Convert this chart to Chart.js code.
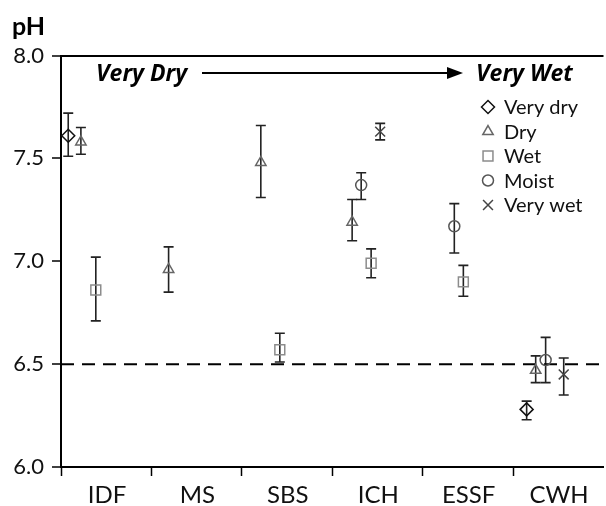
<!DOCTYPE html>
<html>
<head>
<meta charset="utf-8">
<script src="https://cdn.jsdelivr.net/npm/chart.js@4/dist/chart.umd.min.js"></script>
<style>
  html, body { margin: 0; padding: 0; background: #fff; overflow: hidden; }
  #wrap { width: 612px; height: 506px; position: relative; }
</style>
</head>
<body>
<div id="wrap"><canvas id="chart"></canvas></div>
<script>
'use strict';

// zones along the x axis
const categories = ['IDF', 'MS', 'SBS', 'ICH', 'ESSF', 'CWH'];
const yTicks = [6.0, 6.5, 7.0, 7.5, 8.0];
const threshold = 6.5;

// mean pH and error bar ends per zone (null = no sample)
const veryDry     = [7.61, null, null, null, null, 6.28];
const veryDryLow  = [7.51, null, null, null, null, 6.23];
const veryDryHigh = [7.72, null, null, null, null, 6.32];
const veryDryPos  = [0.08, null, null, null, null, 0.15];

const dry     = [7.58, 6.96, 7.48, 7.19, null, 6.47];
const dryLow  = [7.52, 6.85, 7.31, 7.10, null, 6.41];
const dryHigh = [7.65, 7.07, 7.66, 7.30, null, 6.54];
const dryPos  = [0.22, 0.19, 0.21, 0.22, null, 0.25];

const wet     = [6.86, null, 6.57, 6.99, 6.90, null];
const wetLow  = [6.71, null, 6.51, 6.92, 6.83, null];
const wetHigh = [7.02, null, 6.65, 7.06, 6.98, null];
const wetPos  = [0.385, null, 0.42, 0.43, 0.45, null];

const moist     = [null, null, null, 7.37, 7.17, 6.52];
const moistLow  = [null, null, null, 7.30, 7.04, 6.41];
const moistHigh = [null, null, null, 7.43, 7.28, 6.63];
const moistPos  = [null, null, null, 0.32, 0.35, 0.36];

const veryWet     = [null, null, null, 7.63, null, 6.45];
const veryWetLow  = [null, null, null, 7.59, null, 6.35];
const veryWetHigh = [null, null, null, 7.67, null, 6.53];
const veryWetPos  = [null, null, null, 0.53, null, 0.56];

const FONT = 'Lato, "Open Sans", sans-serif';

function points(vals, pos) {
  const out = [];
  vals.forEach((v, i) => {
    if (v !== null) out.push({x: i + pos[i], y: v});
  });
  return out;
}
function bars(vals, pos, lo, hi) {
  const out = [];
  vals.forEach((v, i) => {
    if (v !== null) out.push({x: i + pos[i], lo: lo[i], hi: hi[i]});
  });
  return out;
}

function series(label, vals, pos, lo, hi, style, radius, color) {
  return {
    type: 'scatter',
    label: label,
    data: points(vals, pos),
    errors: bars(vals, pos, lo, hi),
    pointStyle: style,
    pointRadius: radius,
    pointHoverRadius: radius,
    pointBorderWidth: 1.5,
    borderColor: color,
    backgroundColor: 'transparent',
    inLegend: true
  };
}

const datasets = [
  series('Very dry', veryDry, veryDryPos, veryDryLow, veryDryHigh, 'rectRot', 6.5, '#111'),
  series('Dry', dry, dryPos, dryLow, dryHigh, 'triangle', 6, '#666'),
  series('Wet', wet, wetPos, wetLow, wetHigh, 'rect', 7, '#8c8c8c'),
  series('Moist', moist, moistPos, moistLow, moistHigh, 'circle', 5.5, '#555'),
  series('Very wet', veryWet, veryWetPos, veryWetLow, veryWetHigh, 'crossRot', 7, '#444'),
  {
    type: 'line',
    label: 'limit',
    data: [{x: 0, y: threshold}, {x: categories.length, y: threshold}],
    borderColor: '#000',
    borderWidth: 2,
    borderDash: [13, 8],
    pointRadius: 0,
    fill: false
  }
];

// error bars under the markers
const errorBars = {
  id: 'errorBars',
  beforeDatasetsDraw(chart) {
    const ctx = chart.ctx;
    const xs = chart.scales.x, ys = chart.scales.y;
    ctx.save();
    ctx.strokeStyle = '#222';
    ctx.lineWidth = 1.6;
    chart.data.datasets.forEach(ds => {
      (ds.errors || []).forEach(e => {
        const px = xs.getPixelForValue(e.x);
        const top = ys.getPixelForValue(e.hi);
        const bot = ys.getPixelForValue(e.lo);
        ctx.beginPath();
        ctx.moveTo(px, top); ctx.lineTo(px, bot);
        ctx.moveTo(px - 5, top); ctx.lineTo(px + 5, top);
        ctx.moveTo(px - 5, bot); ctx.lineTo(px + 5, bot);
        ctx.stroke();
      });
    });
    ctx.restore();
  }
};

// "Very Dry -> Very Wet" header and the in-plot legend
const extras = {
  id: 'extras',
  afterDraw(chart) {
    const ctx = chart.ctx;
    const area = chart.chartArea;
    ctx.save();
    ctx.fillStyle = '#000';
    ctx.strokeStyle = '#000';
    ctx.font = 'italic bold 23px "Open Sans", ' + FONT;
    ctx.textBaseline = 'alphabetic';
    ctx.textAlign = 'left';
    const base = area.top + 25;
    ctx.fillText('Very Dry', area.left + 35, base);
    ctx.fillText('Very Wet', area.left + 415, base);
    const ay = area.top + 17.5;
    ctx.lineWidth = 2;
    ctx.beginPath();
    ctx.moveTo(area.left + 141, ay);
    ctx.lineTo(area.left + 392, ay);
    ctx.stroke();
    ctx.beginPath();
    ctx.moveTo(area.left + 402, ay);
    ctx.lineTo(area.left + 386, ay - 6);
    ctx.lineTo(area.left + 386, ay + 6);
    ctx.closePath();
    ctx.fill();

    ctx.font = '20px ' + FONT;
    ctx.textBaseline = 'middle';
    const lx = area.left + 427;
    let ly = area.top + 51.5;
    chart.data.datasets.filter(d => d.inLegend).forEach(ds => {
      ctx.strokeStyle = ds.borderColor;
      ctx.fillStyle = 'rgba(0,0,0,0)';
      ctx.lineWidth = 1.5;
      if (Chart.helpers && Chart.helpers.drawPoint) {
        Chart.helpers.drawPoint(ctx, {
          pointStyle: ds.pointStyle,
          radius: ds.pointRadius,
          rotation: 0,
          borderWidth: 1.5
        }, lx, ly);
      }
      ctx.fillStyle = '#111';
      ctx.fillText(ds.label, lx + 16, ly + 1);
      ly += 24.5;
    });
    ctx.restore();
  }
};

const config = {
  data: { datasets: datasets },
  options: {
    responsive: true,
    maintainAspectRatio: false,
    animation: false,
    layout: { padding: { left: 12, right: 0, top: 0, bottom: 0 } },
    plugins: {
      legend: { display: false },
      tooltip: { enabled: false },
      title: {
        display: true,
        text: 'pH',
        align: 'start',
        color: '#000',
        font: { family: FONT, size: 25, weight: 'bold', lineHeight: 1.2 },
        padding: { top: 12, bottom: 13.5 }
      }
    },
    scales: {
      x: {
        type: 'linear',
        min: 0,
        max: categories.length,
        afterBuildTicks: s => {
          s.ticks = categories.map((c, i) => ({value: i}));
        },
        afterFit: s => { s.height = 39; },
        border: { display: true, color: '#000', width: 2 },
        grid: {
          display: true,
          drawOnChartArea: false,
          drawTicks: true,
          tickLength: 9,
          tickColor: '#000',
          tickWidth: 1.5
        },
        ticks: {
          color: '#111',
          font: { family: FONT, size: 24 },
          padding: 5,
          labelOffset: 46,
          maxRotation: 0,
          autoSkip: false,
          callback: (v, i) => categories[i]
        }
      },
      y: {
        type: 'linear',
        min: 6,
        max: 8,
        afterBuildTicks: s => {
          s.ticks = yTicks.map(v => ({value: v}));
        },
        afterFit: s => { s.width = 49; },
        border: { display: true, color: '#000', width: 2 },
        grid: {
          display: true,
          drawOnChartArea: true,
          color: c => (c.tick && c.tick.value === 8 ? '#000' : 'transparent'),
          lineWidth: 2,
          drawTicks: true,
          tickLength: 9,
          tickColor: '#000',
          tickWidth: 1.5
        },
        ticks: {
          color: '#111',
          font: { family: FONT, size: 22 },
          padding: 8,
          callback: v => v.toFixed(1)
        }
      }
    }
  },
  plugins: [errorBars, extras]
};

const canvas = document.querySelector('#chart');
const chart = new Chart(canvas.getContext('2d'), config);
</script>
</body>
</html>
